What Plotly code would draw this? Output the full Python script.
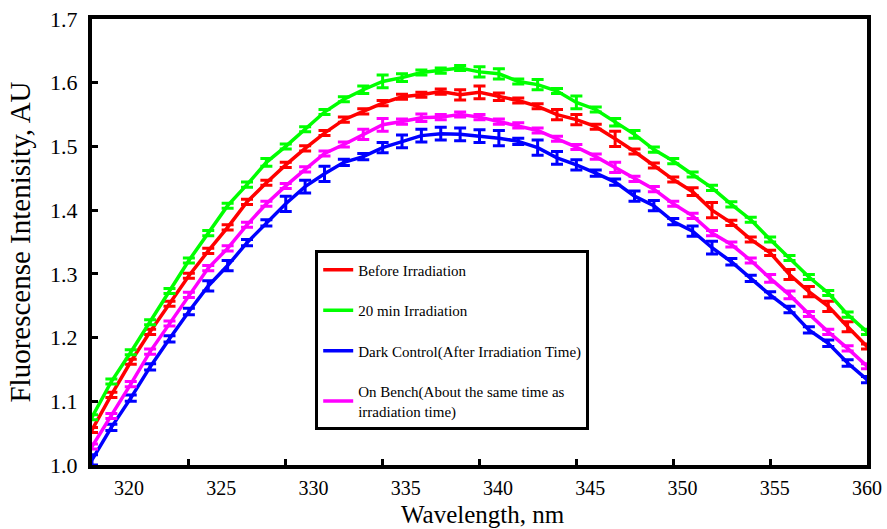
import plotly.graph_objects as go

# Wavelength (nm) of each measured point
wavelength = [318.00, 319.05, 320.10, 321.15, 322.20, 323.25, 324.30, 325.35, 326.40, 327.45,
              328.50, 329.55, 330.60, 331.65, 332.70, 333.75, 334.80, 335.85, 336.90, 337.95,
              339.00, 340.05, 341.10, 342.15, 343.20, 344.25, 345.30, 346.35, 347.40, 348.45,
              349.50, 350.55, 351.60, 352.65, 353.70, 354.75, 355.80, 356.85, 357.90, 358.95,
              360.00]

before_irr = [1.055, 1.110, 1.162, 1.209, 1.253, 1.297, 1.336, 1.373, 1.413, 1.443,
              1.471, 1.497, 1.521, 1.542, 1.555, 1.568, 1.578, 1.581, 1.586, 1.581,
              1.585, 1.578, 1.572, 1.563, 1.550, 1.542, 1.531, 1.512, 1.492, 1.470,
              1.448, 1.429, 1.400, 1.380, 1.354, 1.333, 1.299, 1.272, 1.249, 1.217,
              1.186]
before_err = [0.004, 0.004, 0.004, 0.004, 0.004, 0.004, 0.004, 0.004, 0.004, 0.004,
              0.004, 0.004, 0.004, 0.004, 0.004, 0.004, 0.004, 0.004, 0.004, 0.008,
              0.010, 0.006, 0.004, 0.004, 0.008, 0.008, 0.004, 0.012, 0.004, 0.004,
              0.004, 0.006, 0.012, 0.004, 0.004, 0.004, 0.008, 0.008, 0.008, 0.008,
              0.004]

irr_20min = [1.075, 1.131, 1.177, 1.224, 1.273, 1.321, 1.364, 1.407, 1.440, 1.475,
             1.500, 1.527, 1.554, 1.574, 1.589, 1.602, 1.608, 1.616, 1.619, 1.623,
             1.617, 1.614, 1.602, 1.597, 1.587, 1.569, 1.558, 1.538, 1.519, 1.495,
             1.477, 1.456, 1.435, 1.409, 1.385, 1.354, 1.325, 1.295, 1.270, 1.236,
             1.209]
irr_err = [0.004, 0.004, 0.004, 0.004, 0.004, 0.004, 0.004, 0.004, 0.004, 0.006,
           0.004, 0.004, 0.004, 0.004, 0.006, 0.010, 0.006, 0.004, 0.004, 0.004,
           0.008, 0.008, 0.004, 0.008, 0.004, 0.010, 0.004, 0.006, 0.006, 0.004,
           0.004, 0.004, 0.004, 0.004, 0.004, 0.004, 0.004, 0.004, 0.004, 0.004,
           0.004]

dark_ctrl = [1.008, 1.059, 1.105, 1.154, 1.198, 1.241, 1.281, 1.313, 1.349, 1.380,
             1.410, 1.437, 1.457, 1.475, 1.484, 1.498, 1.508, 1.517, 1.520, 1.519,
             1.516, 1.513, 1.508, 1.498, 1.482, 1.471, 1.458, 1.444, 1.422, 1.407,
             1.382, 1.367, 1.341, 1.319, 1.293, 1.267, 1.244, 1.212, 1.191, 1.160,
             1.134]
dark_err = [0.008, 0.005, 0.005, 0.005, 0.005, 0.005, 0.008, 0.008, 0.005, 0.005,
            0.012, 0.010, 0.012, 0.005, 0.005, 0.008, 0.010, 0.010, 0.010, 0.010,
            0.010, 0.012, 0.005, 0.012, 0.010, 0.008, 0.005, 0.005, 0.008, 0.008,
            0.005, 0.008, 0.010, 0.005, 0.005, 0.005, 0.005, 0.005, 0.005, 0.005,
            0.005]

on_bench = [1.029, 1.077, 1.127, 1.178, 1.222, 1.267, 1.309, 1.340, 1.377, 1.410,
            1.438, 1.464, 1.489, 1.503, 1.519, 1.534, 1.539, 1.545, 1.546, 1.550,
            1.546, 1.539, 1.533, 1.525, 1.512, 1.499, 1.484, 1.467, 1.449, 1.433,
            1.410, 1.391, 1.364, 1.346, 1.321, 1.293, 1.267, 1.237, 1.209, 1.183,
            1.155]
bench_err = [0.004, 0.004, 0.004, 0.004, 0.004, 0.004, 0.004, 0.004, 0.004, 0.004,
             0.004, 0.004, 0.004, 0.004, 0.008, 0.010, 0.004, 0.006, 0.004, 0.004,
             0.004, 0.004, 0.004, 0.004, 0.004, 0.004, 0.004, 0.008, 0.004, 0.004,
             0.004, 0.004, 0.004, 0.004, 0.004, 0.006, 0.006, 0.004, 0.004, 0.004,
             0.004]

x_tick_vals = [320, 325, 330, 335, 340, 345, 350, 355, 360]
x_tick_text = ["320", "325", "330", "335", "340", "345", "350", "355", "360"]
x_tick_marks = [323.25, 328.5, 333.75, 339.0, 344.25, 349.5, 354.75]
y_tick_vals = [1.0, 1.1, 1.2, 1.3, 1.4, 1.5, 1.6, 1.7]

series = [
    ("Before Irradiation", before_irr, before_err, "#FF0000"),
    ("20 min Irradiation", irr_20min, irr_err, "#00FF00"),
    ("Dark Control(After Irradiation Time)", dark_ctrl, dark_err, "#0000FF"),
    ("On Bench(About the same time as<br>irradiation time)", on_bench, bench_err, "#FF00FF"),
]

FONT = "Liberation Serif, Times New Roman, serif"

fig = go.Figure()
for name, vals, errs, col in series:
    fig.add_trace(go.Scatter(
        x=wavelength, y=vals, name=name, mode="lines",
        legendgroup=name,
        line=dict(color=col, width=3.5),
        error_y=dict(type="data", array=errs, visible=True, color=col,
                     thickness=3, width=6),
    ))

fig.update_layout(
    width=887, height=529,
    margin=dict(l=92, r=20, t=19, b=64),
    paper_bgcolor="white", plot_bgcolor="white",
    font=dict(family=FONT, color="black"),
    showlegend=True,
    legend=dict(
        x=0.288, y=0.481, xanchor="left", yanchor="top",
        bgcolor="white", bordercolor="black", borderwidth=3,
        font=dict(family=FONT, size=15, color="black"),
        tracegroupgap=18, itemwidth=30,
    ),
    xaxis=dict(
        range=[318, 360], tickmode="array", tickvals=x_tick_vals, ticktext=x_tick_text,
        ticks="", showgrid=False, zeroline=False, automargin=False,
        showline=True, linecolor="black", linewidth=4, mirror=True,
        tickfont=dict(family=FONT, size=20, color="black"),
        ticklabelstandoff=2,
        minor=dict(tickmode="array", tickvals=x_tick_marks, ticks="inside",
                   ticklen=6, tickwidth=2.5, tickcolor="black", showgrid=False),
    ),
    yaxis=dict(
        range=[1.0, 1.7], tickmode="array", tickvals=y_tick_vals, tickformat=".1f",
        ticks="inside", ticklen=6, tickwidth=2.5, tickcolor="black",
        showgrid=False, zeroline=False, automargin=False,
        showline=True, linecolor="black", linewidth=4, mirror=True,
        tickfont=dict(family=FONT, size=22, color="black"),
        ticklabelstandoff=6,
        title=dict(text="Fluorescense Intenisity, AU",
                   font=dict(family=FONT, size=29, color="black"), standoff=12),
    ),
    annotations=[dict(
        text="Wavelength, nm", xref="paper", yref="paper",
        x=0.505, y=-0.1437, xanchor="center", yanchor="bottom", showarrow=False,
        borderpad=0,
        font=dict(family=FONT, size=25, color="black"),
    )],
)

fig.write_html("out.html")
